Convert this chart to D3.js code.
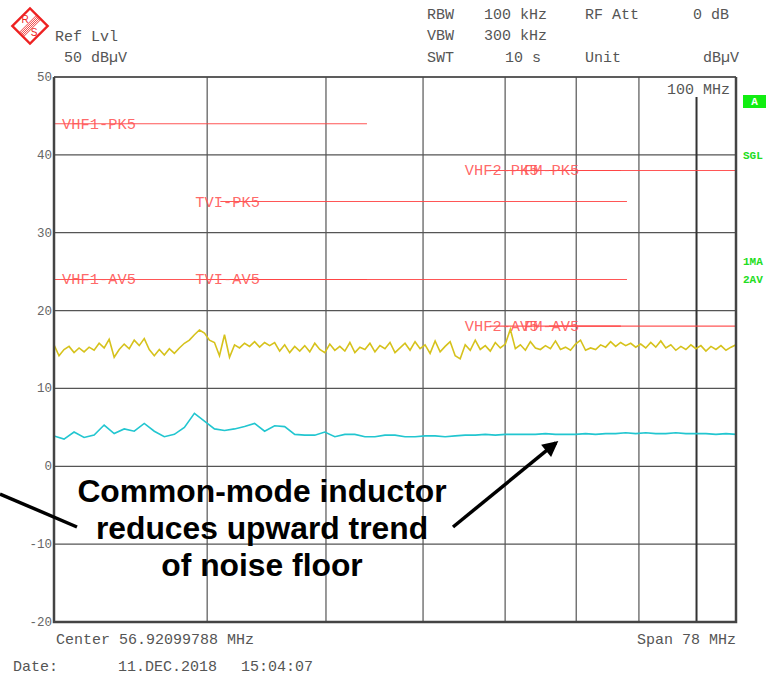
<!DOCTYPE html>
<html>
<head>
<meta charset="utf-8">
<script src="https://cdn.jsdelivr.net/npm/d3@7"></script>
<style>
  body { margin: 0; background: #fff; }
  svg { display: block; }
  .mono { font-family: "Liberation Mono", "DejaVu Sans Mono", monospace; }
</style>
</head>
<body>
<div id="chart"></div>
<script>
/* global d3 */

// sweep is logarithmic, 30 .. 108 MHz
var startFreq = 30, stopFreq = 108;
var levelTicks = [ 50, 40, 30, 20, 10, 0, -10, -20 ];
var gridFreqs = [ 40, 50, 60, 70, 80, 90 ];
var markerFreq = 100;

// CISPR 25 class 5 limit lines (dBuV)
var limitNames = [ "VHF1-PK5", "VHF1-AV5", "TVI-PK5", "TVI-AV5", "VHF2-PK5", "VHF2-AV5", "FM-PK5", "FM-AV5" ];
var limitStart = [ 30, 30, 41, 41, 68, 68, 76, 76 ];
var limitStop  = [ 54, 54, 88, 88, 87, 87, 108, 108 ];
var limitLevel = [ 44, 24, 34, 24, 38, 18, 38, 18 ];

// trace 1: max peak (yellow), equally spaced sweep points
var peakTrace = [
  15.6, 14.2, 15.0, 15.4, 14.6, 15.2, 14.7, 15.3, 14.9, 15.8,
  15.2, 16.3, 14.0, 15.0, 15.7, 15.1, 16.2, 15.5, 16.4, 15.0,
  14.2, 15.0, 14.3, 15.1, 14.5, 15.2, 15.8, 16.2, 16.9, 17.5,
  17.1, 16.2, 15.9, 14.2, 16.9, 14.0, 15.6, 15.2, 15.8, 15.4,
  16.0, 15.3, 15.9, 15.5, 15.9, 14.8, 15.6, 14.6, 15.4, 14.8,
  15.5, 14.7, 15.8, 15.0, 14.6, 15.7, 14.9, 15.4, 14.8, 15.9,
  14.6, 15.3, 15.0, 15.8, 14.7, 15.5, 15.1, 15.9, 14.6, 15.2,
  15.8, 14.9, 16.0, 15.1, 15.6, 14.5, 16.1, 14.7, 15.4, 16.0,
  14.2, 13.8, 15.6, 14.9, 16.2, 15.0, 15.5, 14.8, 15.9, 15.2,
  15.7, 17.6, 15.1, 15.6, 14.9, 16.0, 15.2, 15.0, 15.5, 15.1,
  16.1, 15.0, 15.3, 14.9, 15.7, 16.2, 14.9, 15.2, 15.0, 15.6,
  15.3, 16.0, 15.4, 15.9, 15.5, 15.8, 15.3, 15.7, 15.2, 15.9,
  15.3, 16.1, 15.2, 15.6, 14.9, 15.4, 15.0, 15.6, 15.1, 15.5,
  14.8, 15.4, 15.0, 15.5, 14.9, 15.3, 15.6
];

// trace 2: average (cyan)
var avgTrace = [
  3.9, 3.5, 4.4, 3.7, 4.0, 5.3, 4.2, 4.8, 4.5, 5.5,
  4.5, 3.8, 4.1, 5.0, 6.8, 5.8, 4.8, 4.6, 4.8, 5.1,
  5.5, 4.5, 5.2, 5.1, 4.1, 4.0, 4.0, 4.4, 3.8, 4.1,
  4.1, 3.8, 3.8, 4.0, 4.0, 3.8, 3.8, 3.9, 3.9, 3.8,
  3.9, 4.0, 4.0, 4.1, 4.0, 4.1, 4.1, 4.1, 4.1, 4.2,
  4.1, 4.1, 4.1, 4.2, 4.1, 4.2, 4.2, 4.3, 4.2, 4.3,
  4.2, 4.2, 4.3, 4.2, 4.2, 4.2, 4.1, 4.2, 4.1
];

var annotationLines = [ "Common-mode inductor", "reduces upward trend", "of noise floor" ];

var width = 767, height = 676;
var margin = { top: 77, right: 31, bottom: 54, left: 54 };

var svg = d3.select( "#chart" ).append( "svg" )
  .attr( "width", width )
  .attr( "height", height );

var x = d3.scaleLog()
  .domain( [ startFreq, stopFreq ] )
  .range( [ margin.left, width - margin.right ] );

var y = d3.scaleLinear()
  .domain( [ -20, 50 ] )
  .range( [ height - margin.bottom, margin.top ] );

// sweep points are equally spaced on the log axis
function sweep( values ) {
  var n = values.length;
  return values.map( function( v, i ) {
    return [ startFreq * Math.pow( stopFreq / startFreq, i / ( n - 1 ) ), v ];
  } );
}

svg.append( "clipPath" ).attr( "id", "plot" )
  .append( "rect" )
    .attr( "x", x.range()[ 0 ] )
    .attr( "y", y.range()[ 1 ] )
    .attr( "width", x.range()[ 1 ] - x.range()[ 0 ] )
    .attr( "height", y.range()[ 0 ] - y.range()[ 1 ] );

// grid
svg.append( "g" ).selectAll( "line" )
  .data( levelTicks )
  .enter().append( "line" )
    .attr( "x1", x.range()[ 0 ] )
    .attr( "x2", x.range()[ 1 ] )
    .attr( "y1", d => y( d ) )
    .attr( "y2", d => y( d ) )
    .attr( "stroke", "#555" )
    .attr( "stroke-width", 1.2 );

svg.append( "g" ).selectAll( "line" )
  .data( gridFreqs )
  .enter().append( "line" )
    .attr( "x1", d => x( d ) )
    .attr( "x2", d => x( d ) )
    .attr( "y1", y.range()[ 0 ] )
    .attr( "y2", y.range()[ 1 ] )
    .attr( "stroke", "#555" )
    .attr( "stroke-width", 1.2 );

// level tick labels
svg.append( "g" ).attr( "class", "mono" ).selectAll( "text" )
  .data( levelTicks )
  .enter().append( "text" )
    .attr( "x", x.range()[ 0 ] - 2 )
    .attr( "y", d => y( d ) + 4 )
    .attr( "text-anchor", "end" )
    .attr( "font-size", 12.5 )
    .attr( "fill", "#666" )
    .text( d => d );

// frequency marker line
svg.append( "line" )
  .attr( "x1", x( markerFreq ) + 1.5 )
  .attr( "x2", x( markerFreq ) + 1.5 )
  .attr( "y1", y.range()[ 1 ] + 20 )
  .attr( "y2", y.range()[ 0 ] )
  .attr( "stroke", "#333" )
  .attr( "stroke-width", 2 );

svg.append( "text" ).attr( "class", "mono" )
  .attr( "x", x( markerFreq ) + 35 )
  .attr( "y", y.range()[ 1 ] + 17 )
  .attr( "text-anchor", "end" )
  .attr( "font-size", 15 )
  .attr( "fill", "#555" )
  .text( markerFreq + " MHz" );

// limit lines
var limits = limitNames.map( function( name, i ) {
  return { name: name, f0: limitStart[ i ], f1: limitStop[ i ], level: limitLevel[ i ] };
} );

var limitG = svg.append( "g" );
limitG.selectAll( "line" )
  .data( limits )
  .enter().append( "line" )
    .attr( "x1", d => x( d.f0 ) )
    .attr( "x2", d => x( d.f1 ) )
    .attr( "y1", d => y( d.level ) )
    .attr( "y2", d => y( d.level ) )
    .attr( "stroke", "#ff4444" )
    .attr( "stroke-opacity", 0.9 )
    .attr( "stroke-width", 1.1 );

limitG.selectAll( "text" )
  .data( limits )
  .enter().append( "text" )
    .attr( "class", "mono" )
    .attr( "x", d => Math.max( x( d.f0 ) - 25, x( startFreq ) + 8 ) )
    .attr( "y", d => y( d.level ) + 5 )
    .attr( "font-size", 15.4 )
    .attr( "fill", "#ff5555" )
    .attr( "fill-opacity", 0.9 )
    .text( d => d.name );

// traces
var line = d3.line()
  .x( d => x( d[ 0 ] ) )
  .y( d => y( d[ 1 ] ) );

var traceG = svg.append( "g" ).attr( "clip-path", "url(#plot)" );

traceG.append( "path" )
  .datum( sweep( peakTrace ) )
  .attr( "d", line )
  .attr( "fill", "none" )
  .attr( "stroke", "#d6c21c" )
  .attr( "stroke-width", 1.6 );

traceG.append( "path" )
  .datum( sweep( avgTrace ) )
  .attr( "d", line )
  .attr( "fill", "none" )
  .attr( "stroke", "#22c6d0" )
  .attr( "stroke-width", 1.6 );

// frame
var frame = svg.append( "g" ).attr( "stroke", "#444" ).attr( "fill", "none" );
frame.append( "path" )
  .attr( "d", "M" + x.range()[ 0 ] + "," + y.range()[ 1 ] +
    "V" + y.range()[ 0 ] + "H" + x.range()[ 1 ] + "V" + y.range()[ 1 ] )
  .attr( "stroke-width", 2.5 );
frame.append( "line" )
  .attr( "x1", x.range()[ 0 ] ).attr( "x2", x.range()[ 1 ] )
  .attr( "y1", y.range()[ 1 ] ).attr( "y2", y.range()[ 1 ] )
  .attr( "stroke-width", 1.6 );

// header
var header = svg.append( "g" ).attr( "class", "mono" )
  .attr( "font-size", 15 ).attr( "fill", "#555" );

function headerText( tx, ty, s, anchor ) {
  header.append( "text" )
    .attr( "x", tx ).attr( "y", ty )
    .attr( "text-anchor", anchor || "start" )
    .text( s );
}

headerText( 55, 41, "Ref Lvl" );
headerText( 64, 62, "50 dB\u00b5V" );
headerText( 427, 19, "RBW" );
headerText( 484, 19, "100 kHz" );
headerText( 585, 19, "RF Att" );
headerText( 729, 19, "0 dB", "end" );
headerText( 427, 40, "VBW" );
headerText( 484, 40, "300 kHz" );
headerText( 427, 62, "SWT" );
headerText( 505, 62, "10 s" );
headerText( 585, 62, "Unit" );
headerText( 739, 62, "dB\u00b5V", "end" );
headerText( 56, 644, "Center 56.92099788 MHz" );
headerText( 736, 644, "Span 78 MHz", "end" );
headerText( 13, 671, "Date:" );
headerText( 118, 671, "11.DEC.2018" );
headerText( 241, 671, "15:04:07" );

// R&S logo
var logo = svg.append( "g" ).attr( "transform", "translate(30,26)" );
var logoR = logo.append( "g" ).attr( "transform", "rotate(-45)" );
logoR.append( "rect" )
  .attr( "x", -12.5 ).attr( "y", -12.5 )
  .attr( "width", 25 ).attr( "height", 25 )
  .attr( "fill", "none" ).attr( "stroke", "#ee2222" ).attr( "stroke-width", 2.4 );
logoR.selectAll( "line.stripe" )
  .data( [ -3, -1.5, 0, 1.5, 3 ] )
  .enter().append( "line" )
    .attr( "class", "stripe" )
    .attr( "x1", -12.5 ).attr( "x2", 12.5 )
    .attr( "y1", d => d ).attr( "y2", d => d )
    .attr( "stroke", "#ee2222" ).attr( "stroke-width", 0.8 );
logo.append( "text" ).attr( "x", -5 ).attr( "y", -3 )
  .attr( "text-anchor", "middle" ).attr( "font-size", 10 )
  .attr( "font-family", "Liberation Sans, Arial, sans-serif" )
  .attr( "fill", "#ee2222" ).text( "R" );
logo.append( "text" ).attr( "x", 4 ).attr( "y", 10 )
  .attr( "text-anchor", "middle" ).attr( "font-size", 10 )
  .attr( "font-family", "Liberation Sans, Arial, sans-serif" )
  .attr( "fill", "#ee2222" ).text( "S" );

// status flags right of the screen
var flags = svg.append( "g" ).attr( "class", "mono" )
  .attr( "font-size", 11 ).attr( "font-weight", "bold" ).attr( "fill", "#22dd22" );
flags.append( "rect" )
  .attr( "x", 743 ).attr( "y", 95 ).attr( "width", 23 ).attr( "height", 13 )
  .attr( "fill", "#11ee11" );
flags.append( "text" ).attr( "x", 754.5 ).attr( "y", 105 )
  .attr( "text-anchor", "middle" ).attr( "fill", "#fff" ).text( "A" );
flags.append( "text" ).attr( "x", 743 ).attr( "y", 159 ).text( "SGL" );
flags.append( "text" ).attr( "x", 743 ).attr( "y", 265 ).text( "1MA" );
flags.append( "text" ).attr( "x", 743 ).attr( "y", 283 ).text( "2AV" );

// annotation
var note = svg.append( "g" )
  .attr( "font-family", "Liberation Sans, Arial, sans-serif" )
  .attr( "font-weight", "bold" )
  .attr( "font-size", 31.8 )
  .attr( "text-anchor", "middle" );
note.selectAll( "text" )
  .data( annotationLines )
  .enter().append( "text" )
    .attr( "x", 262 )
    .attr( "y", ( d, i ) => 502 + i * 37 )
    .text( d => d );

svg.append( "defs" ).append( "marker" )
  .attr( "id", "head" )
  .attr( "viewBox", "0 0 10 10" )
  .attr( "refX", 8 ).attr( "refY", 5 )
  .attr( "markerWidth", 5 ).attr( "markerHeight", 4.5 )
  .attr( "orient", "auto" )
  .append( "path" ).attr( "d", "M0,0L10,5L0,10Z" ).attr( "fill", "#000" );

svg.append( "line" )
  .attr( "x1", 0 ).attr( "y1", 494 )
  .attr( "x2", 77 ).attr( "y2", 527 )
  .attr( "stroke", "#000" ).attr( "stroke-width", 3.5 );

svg.append( "line" )
  .attr( "x1", 453 ).attr( "y1", 527 )
  .attr( "x2", x( 77 ) ).attr( "y2", y( 3 ) )
  .attr( "stroke", "#000" ).attr( "stroke-width", 3.5 )
  .attr( "marker-end", "url(#head)" );
</script>
</body>
</html>
